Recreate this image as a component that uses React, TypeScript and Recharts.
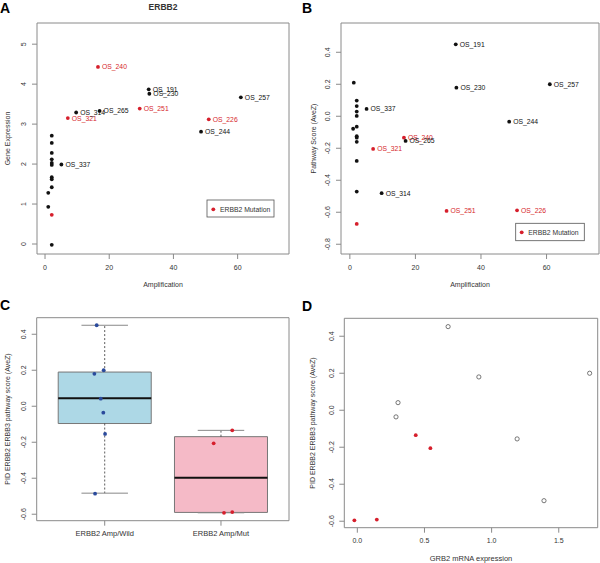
import React from "react";
import {
  ScatterChart,
  ComposedChart,
  Scatter,
  XAxis,
  YAxis,
  ReferenceArea,
  ReferenceLine,
} from "recharts";

const FONT = "'Liberation Sans', Arial, Helvetica, sans-serif";
const RED = "#d61f2c";
const INK = "#111111";
const BLUE = "#2a4a9c";
const FRAME = "#8a8a8a";
const TEXT = "#333333";

// amplified samples, labelled in A and B
const ampIds = ["OS_191", "OS_230", "OS_257", "OS_337", "OS_244", "OS_240", "OS_265", "OS_321", "OS_314", "OS_251", "OS_226"];
const ampLevel = [32.3, 32.5, 61, 5.1, 48.6, 16.5, 17, 7.1, 9.7, 29.5, 51];
const ampExpr = [3.87, 3.76, 3.67, 1.99, 2.81, 4.43, 3.33, 3.15, 3.29, 3.39, 3.12];
const ampScore = [0.45, 0.179, 0.2, 0.046, -0.034, -0.134, -0.154, -0.204, -0.481, -0.592, -0.588];
const ampMutated = [false, false, false, false, false, true, false, true, false, true, true];

// low-level samples (A)
const lowAmpA = [2.1, 2.1, 2.1, 2.1, 2.1, 2.1, 2.1, 2.1, 2.1, 1.0, 1.0, 2.1, 2.1];
const lowExprA = [2.71, 2.53, 2.28, 2.12, 2.03, 1.98, 1.67, 1.62, 1.42, 1.28, 0.93, 0.73, -0.02];
const lowMutA = [false, false, false, false, false, false, false, false, false, false, false, true, false];

// low-level samples (B)
const lowAmpB = [1.2, 2.1, 2.1, 2.1, 2.1, 2.1, 1.0, 2.1, 2.1, 2.1, 2.1, 2.1, 2.1];
const lowScoreB = [0.21, 0.098, 0.064, 0.029, 0.002, -0.065, -0.078, -0.125, -0.134, -0.16, -0.279, -0.471, -0.673];
const lowMutB = [false, false, false, false, false, false, false, false, false, false, false, false, true];

// C: boxplot of pathway score
const groupNames = ["ERBB2 Amp/Wild", "ERBB2 Amp/Mut"];
const boxLow = [-0.483, -0.592];
const boxQ1 = [-0.096, -0.59];
const boxMedian = [0.044, -0.398];
const boxQ3 = [0.19, -0.169];
const boxHigh = [0.45, -0.134];
const wildJitter = [0.931, 0.991, 0.911, 0.966, 0.988, 1.003, 0.917];
const wildScore = [0.45, 0.2, 0.18, 0.042, -0.036, -0.154, -0.486];
const mutJitter = [2.097, 1.937, 2.026, 2.097];
const mutScore = [-0.134, -0.206, -0.592, -0.588];

// D: GRB2 vs pathway score
const grb2Wild = [0.676, 0.905, 1.73, 0.303, 0.288, 1.19, 1.39];
const dScoreWild = [0.452, 0.18, 0.2, 0.041, -0.036, -0.155, -0.489];
const grb2Mut = [0.435, 0.544, -0.022, 0.145];
const dScoreMut = [-0.135, -0.205, -0.595, -0.591];

const ampTicks = [0, 20, 40, 60];
const exprTicks = [0, 1, 2, 3, 4, 5];
const scoreTicksB = [-0.8, -0.6, -0.4, -0.2, 0, 0.2, 0.4];
const scoreTicksCD = [-0.6, -0.4, -0.2, 0, 0.2, 0.4];
const grb2Ticks = [0, 0.5, 1, 1.5];
const groupTicks = [1, 2];

const boxFill = ["#add8e6", "#f5bac7"];

const dataA = [
  ...ampIds.map((id, i) => ({ x: ampLevel[i], y: ampExpr[i], id, mut: ampMutated[i] })),
  ...lowAmpA.map((x, i) => ({ x, y: lowExprA[i], id: "", mut: lowMutA[i] })),
];
const dataB = [
  ...ampIds.map((id, i) => ({ x: ampLevel[i], y: ampScore[i], id, mut: ampMutated[i] })),
  ...lowAmpB.map((x, i) => ({ x, y: lowScoreB[i], id: "", mut: lowMutB[i] })),
];
const dataCWild = wildJitter.map((x, i) => ({ x, y: wildScore[i] }));
const dataCMut = mutJitter.map((x, i) => ({ x, y: mutScore[i] }));
const dataDWild = grb2Wild.map((x, i) => ({ x, y: dScoreWild[i] }));
const dataDMut = grb2Mut.map((x, i) => ({ x, y: dScoreMut[i] }));

const int = (v: number) => String(v);
const one = (v: number) => v.toFixed(1);
const group = (v: number) => groupNames[v - 1];

function XTick(props: any) {
  const { x, y, payload, fmt, size } = props;
  return (
    <text x={x} y={y + 8.5} textAnchor="middle" fontSize={size || 7} fill={TEXT} fontFamily={FONT}>
      {fmt(payload.value)}
    </text>
  );
}

function YTick(props: any) {
  const { x, y, payload, fmt } = props;
  const bx = x - 3.5;
  return (
    <text
      x={bx}
      y={y}
      transform={`rotate(-90 ${bx} ${y})`}
      textAnchor="middle"
      fontSize={7}
      fill={TEXT}
      fontFamily={FONT}
    >
      {fmt(payload.value)}
    </text>
  );
}

function LabelledDot(props: any) {
  const { cx, cy, payload } = props;
  const color = payload.mut ? RED : INK;
  return (
    <g>
      <circle cx={cx} cy={cy} r={1.9} fill={color} />
      {payload.id ? (
        <text x={cx + 4} y={cy + 2.4} fontSize={6.8} fill={color} fontFamily={FONT}>
          {payload.id}
        </text>
      ) : null}
    </g>
  );
}

const dotShape = (color: string) => (p: any) => <circle cx={p.cx} cy={p.cy} r={1.9} fill={color} />;
const ringShape = (p: any) => (
  <circle cx={p.cx} cy={p.cy} r={2.1} fill="none" stroke="#555" strokeWidth={0.8} />
);

const axisCommon = {
  type: "number" as const,
  axisLine: false,
  tickLine: { stroke: FRAME },
  tickSize: 5,
  tickMargin: 2,
  allowDataOverflow: true,
};

const domA: [number, number] = [-2.5, 76];
const domAy: [number, number] = [-0.25, 5.53];
const domB: [number, number] = [-2.7, 76];
const domBy: [number, number] = [-0.861, 0.583];
const domC: [number, number] = [0.415, 2.585];
const domCy: [number, number] = [-0.636, 0.492];
const domD: [number, number] = [-0.097, 1.79];
const domDy: [number, number] = [-0.635, 0.497];

function Overlay() {
  const t = { fontFamily: FONT, fill: TEXT };
  return (
    <svg width={600} height={563} style={{ position: "absolute", left: 0, top: 0, pointerEvents: "none" }}>
      <g fontFamily={FONT} fontWeight="bold" fontSize={14} fill="#000">
        <text x={0} y={13}>A</text>
        <text x={302} y={13}>B</text>
        <text x={0} y={310}>C</text>
        <text x={302} y={311}>D</text>
      </g>
      <text x={163} y={10} textAnchor="middle" fontSize={8.5} fontWeight="bold" {...t}>ERBB2</text>
      <text x={163} y={287} textAnchor="middle" fontSize={7} {...t}>Amplification</text>
      <text x={470} y={287} textAnchor="middle" fontSize={7} {...t}>Amplification</text>
      <text x={471} y={561} textAnchor="middle" fontSize={7.5} {...t}>GRB2 mRNA expression</text>
      <text x={10} y={138.5} transform="rotate(-90 10 138.5)" textAnchor="middle" fontSize={7} {...t}>Gene Expression</text>
      <text x={316} y={138.5} transform="rotate(-90 316 138.5)" textAnchor="middle" fontSize={7} {...t}>Pathway Score (AveZ)</text>
      <text x={10} y={419} transform="rotate(-90 10 419)" textAnchor="middle" fontSize={7} {...t}>PID ERBB2 ERBB3 pathway score (AveZ)</text>
      <text x={315} y={423} transform="rotate(-90 315 423)" textAnchor="middle" fontSize={7} {...t}>PID ERBB2 ERBB3 pathway score (AveZ)</text>

      <rect x={207} y={200} width={67} height={17} fill="#fff" stroke="#555" strokeWidth={0.8} />
      <circle cx={213.3} cy={209.3} r={1.9} fill={RED} />
      <text x={220} y={211.8} fontSize={6.8} {...t}>ERBB2 Mutation</text>

      <rect x={515.7} y={223.3} width={68.6} height={17.4} fill="#fff" stroke="#555" strokeWidth={0.8} />
      <circle cx={521.7} cy={232.3} r={1.9} fill={RED} />
      <text x={528.3} y={234.8} fontSize={6.8} {...t}>ERBB2 Mutation</text>
    </svg>
  );
}

export default function App() {
  return (
    <div style={{ position: "absolute", left: 0, top: 0, width: 600, height: 563, background: "#fff" }}>
      {/* A */}
      <div style={{ position: "absolute", left: 0, top: 0 }}>
        <ScatterChart width={300} height={290} margin={{ top: 23, right: 11, bottom: 6, left: 7 }}>
          <XAxis {...axisCommon} dataKey="x" domain={domA} ticks={ampTicks} height={30}
            tick={(p: any) => <XTick {...p} fmt={int} />} />
          <YAxis {...axisCommon} dataKey="y" domain={domAy} ticks={exprTicks} width={30}
            tick={(p: any) => <YTick {...p} fmt={int} />} />
          <ReferenceArea x1={domA[0]} x2={domA[1]} y1={domAy[0]} y2={domAy[1]} fill="none" stroke={FRAME} ifOverflow="visible" />
          <Scatter data={dataA} shape={LabelledDot} isAnimationActive={false} />
        </ScatterChart>
      </div>

      {/* B */}
      <div style={{ position: "absolute", left: 300, top: 0 }}>
        <ScatterChart width={300} height={290} margin={{ top: 23, right: 1, bottom: 6, left: 11 }}>
          <XAxis {...axisCommon} dataKey="x" domain={domB} ticks={ampTicks} height={30}
            tick={(p: any) => <XTick {...p} fmt={int} />} />
          <YAxis {...axisCommon} dataKey="y" domain={domBy} ticks={scoreTicksB} width={30}
            tick={(p: any) => <YTick {...p} fmt={one} />} />
          <ReferenceArea x1={domB[0]} x2={domB[1]} y1={domBy[0]} y2={domBy[1]} fill="none" stroke={FRAME} ifOverflow="visible" />
          <Scatter data={dataB} shape={LabelledDot} isAnimationActive={false} />
        </ScatterChart>
      </div>

      {/* C */}
      <div style={{ position: "absolute", left: 0, top: 290 }}>
        <ComposedChart width={300} height={273} margin={{ top: 27.7, right: 11, bottom: 12.3, left: 6.7 }}>
          <XAxis {...axisCommon} dataKey="x" domain={domC} ticks={groupTicks} height={30}
            tick={(p: any) => <XTick {...p} fmt={group} size={7.5} />} />
          <YAxis {...axisCommon} dataKey="y" domain={domCy} ticks={scoreTicksCD} width={30}
            tick={(p: any) => <YTick {...p} fmt={one} />} />
          {groupNames.map((g, i) => (
            <ReferenceArea key={"box" + g} x1={i + 1 - 0.4} x2={i + 1 + 0.4} y1={boxQ1[i]} y2={boxQ3[i]}
              fill={boxFill[i]} fillOpacity={1} stroke="#777" strokeWidth={1} ifOverflow="visible" />
          ))}
          {groupNames.map((g, i) => (
            <ReferenceLine key={"wu" + g} segment={[{ x: i + 1, y: boxQ3[i] }, { x: i + 1, y: boxHigh[i] }]}
              stroke="#333" strokeDasharray="2 2" strokeWidth={0.8} ifOverflow="visible" />
          ))}
          {groupNames.map((g, i) => (
            <ReferenceLine key={"wl" + g} segment={[{ x: i + 1, y: boxQ1[i] }, { x: i + 1, y: boxLow[i] }]}
              stroke="#333" strokeDasharray="2 2" strokeWidth={0.8} ifOverflow="visible" />
          ))}
          {groupNames.map((g, i) => (
            <ReferenceLine key={"cu" + g} segment={[{ x: i + 1 - 0.2, y: boxHigh[i] }, { x: i + 1 + 0.2, y: boxHigh[i] }]}
              stroke="#888" strokeWidth={1} ifOverflow="visible" />
          ))}
          {groupNames.map((g, i) => (
            <ReferenceLine key={"cl" + g} segment={[{ x: i + 1 - 0.2, y: boxLow[i] }, { x: i + 1 + 0.2, y: boxLow[i] }]}
              stroke="#888" strokeWidth={1} ifOverflow="visible" />
          ))}
          {groupNames.map((g, i) => (
            <ReferenceLine key={"md" + g} segment={[{ x: i + 1 - 0.4, y: boxMedian[i] }, { x: i + 1 + 0.4, y: boxMedian[i] }]}
              stroke="#111" strokeWidth={2} ifOverflow="visible" />
          ))}
          <ReferenceArea x1={domC[0]} x2={domC[1]} y1={domCy[0]} y2={domCy[1]} fill="none" stroke={FRAME} ifOverflow="visible" />
          <Scatter data={dataCWild} shape={dotShape(BLUE)} isAnimationActive={false} />
          <Scatter data={dataCMut} shape={dotShape(RED)} isAnimationActive={false} />
        </ComposedChart>
      </div>

      {/* D */}
      <div style={{ position: "absolute", left: 300, top: 290 }}>
        <ScatterChart width={300} height={273} margin={{ top: 28.3, right: 2.3, bottom: 5.3, left: 14.3 }}>
          <XAxis {...axisCommon} dataKey="x" domain={domD} ticks={grb2Ticks} height={30}
            tick={(p: any) => <XTick {...p} fmt={one} />} />
          <YAxis {...axisCommon} dataKey="y" domain={domDy} ticks={scoreTicksCD} width={30}
            tick={(p: any) => <YTick {...p} fmt={one} />} />
          <ReferenceArea x1={domD[0]} x2={domD[1]} y1={domDy[0]} y2={domDy[1]} fill="none" stroke={FRAME} ifOverflow="visible" />
          <Scatter data={dataDWild} shape={ringShape} isAnimationActive={false} />
          <Scatter data={dataDMut} shape={dotShape(RED)} isAnimationActive={false} />
        </ScatterChart>
      </div>

      <Overlay />
    </div>
  );
}
